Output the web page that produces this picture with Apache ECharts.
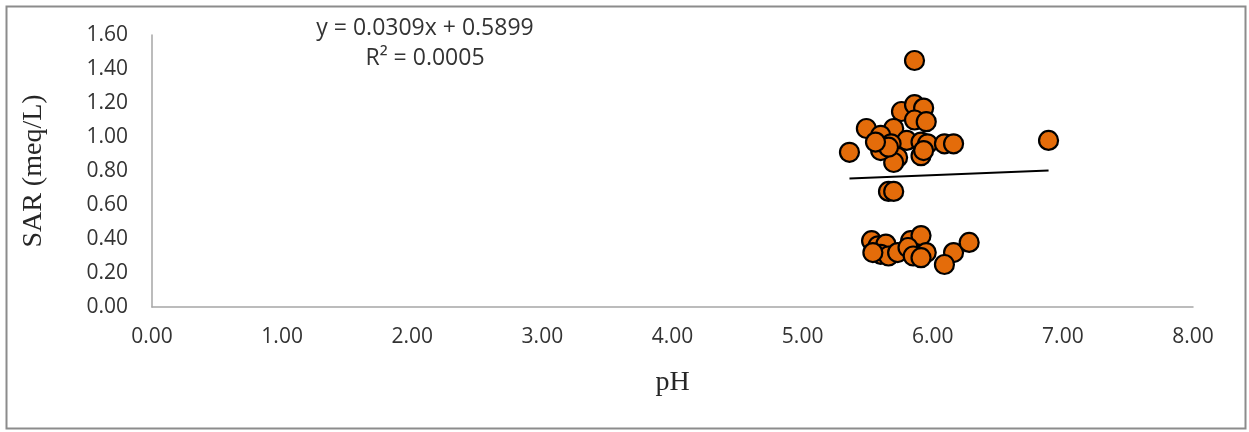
<!DOCTYPE html>
<html>
<head>
<meta charset="utf-8">
<script src="https://cdn.jsdelivr.net/npm/echarts@6/dist/echarts.min.js"></script>
<style>
  html, body { margin: 0; padding: 0; background: #fff; }
  #chart { width: 1249px; height: 432px; }
</style>
</head>
<body>
<div id="chart"></div>
<script>
// Soil samples: pH against sodium adsorption ratio
const phValues = [
  5.86, 5.49, 5.36, 5.76, 5.86, 5.93, 5.86, 5.95, 5.70, 5.60,
  5.80, 5.68, 5.91, 5.96, 6.09, 6.16, 5.73, 5.70, 5.91, 5.60,
  5.66, 6.89, 5.66, 5.70, 5.93, 5.56,
  5.53, 5.58, 5.64, 5.60, 5.66, 5.54, 5.73, 5.83, 5.91, 5.81,
  5.95, 5.85, 5.91, 6.16, 6.28, 6.09
];
const sarValues = [
  1.45, 1.05, 0.91, 1.15, 1.19, 1.17, 1.10, 1.09, 1.05, 1.01,
  0.98, 0.96, 0.97, 0.96, 0.96, 0.96, 0.88, 0.85, 0.89, 0.92,
  0.94, 0.98, 0.68, 0.68, 0.92, 0.97,
  0.39, 0.36, 0.37, 0.31, 0.30, 0.32, 0.32, 0.39, 0.42, 0.35,
  0.32, 0.30, 0.29, 0.32, 0.38, 0.25
];
// Linear trend: slope, intercept, R²
const trendCoef = [0.0309, 0.5899];
const trendR2 = 0.0005;

const points = phValues.map((x, i) => [x, sarValues[i]]);
const xMin = Math.min(...phValues);
const xMax = Math.max(...phValues);
const trendLine = [xMin, xMax].map(x => [x, trendCoef[0] * x + trendCoef[1]]);

const tickFont = { fontFamily: 'Open Sans', fontSize: 21, color: '#333' };
const nameFont = { fontFamily: 'Liberation Serif', fontSize: 28, color: '#262626' };

const chart = echarts.init(document.getElementById('chart'), null, { renderer: 'canvas' });
chart.setOption({
  backgroundColor: '#fff',
  animation: false,
  grid: { left: 152, right: 56, top: 35, bottom: 125 },
  xAxis: {
    type: 'value', min: 0, max: 8, interval: 1,
    name: 'pH', nameLocation: 'middle', nameGap: 62,
    nameTextStyle: nameFont,
    axisLine: { lineStyle: { color: '#a6a6a6', width: 1.5 } },
    axisTick: { show: false },
    splitLine: { show: false },
    axisLabel: Object.assign({ margin: 20, formatter: v => v.toFixed(2) }, tickFont)
  },
  yAxis: {
    type: 'value', min: 0, max: 1.6, interval: 0.2,
    name: 'SAR (meq/L)', nameLocation: 'middle', nameGap: 104,
    nameTextStyle: nameFont,
    axisLine: { show: true, lineStyle: { color: '#a6a6a6', width: 1.5 } },
    axisTick: { show: false },
    splitLine: { show: false },
    axisLabel: Object.assign({ margin: 24, formatter: v => v.toFixed(2) }, tickFont)
  },
  series: [
    {
      type: 'scatter',
      data: points,
      symbolSize: 19,
      itemStyle: { color: '#E46C0A', opacity: 1, borderColor: '#000', borderWidth: 2.2 },
      z: 3
    },
    {
      type: 'line',
      data: trendLine,
      symbol: 'none',
      lineStyle: { color: '#000', width: 2 },
      z: 4
    }
  ],
  graphic: [
    {
      type: 'rect', left: 4, top: 4, z: -1,
      shape: { width: 1239, height: 422 },
      style: { fill: 'none', stroke: '#8c8c8c', lineWidth: 2 }
    },
    {
      type: 'text', x: 425, y: 28,
      style: {
        text: 'y = ' + trendCoef[0] + 'x + ' + trendCoef[1],
        fontFamily: 'Open Sans', fontSize: 23, fill: '#333',
        align: 'center', verticalAlign: 'middle'
      }
    },
    {
      type: 'text', x: 425, y: 58,
      style: {
        text: 'R² = ' + trendR2.toFixed(4),
        fontFamily: 'Open Sans', fontSize: 23, fill: '#333',
        align: 'center', verticalAlign: 'middle'
      }
    }
  ]
});
</script>
</body>
</html>
